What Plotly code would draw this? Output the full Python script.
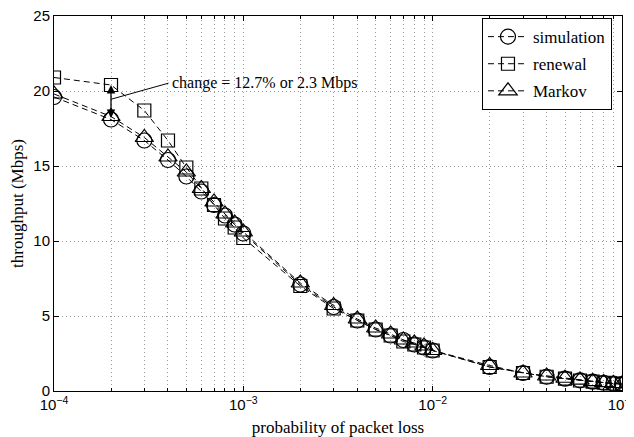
import math
import plotly.graph_objects as go

# probability of packet loss
p = [1e-4, 2e-4, 3e-4, 4e-4, 5e-4, 6e-4, 7e-4, 8e-4, 9e-4,
     1e-3, 2e-3, 3e-3, 4e-3, 5e-3, 6e-3, 7e-3, 8e-3, 9e-3,
     1e-2, 2e-2, 3e-2, 4e-2, 5e-2, 6e-2, 7e-2, 8e-2, 9e-2, 1e-1]

simulation = [19.6, 18.1, 16.7, 15.4, 14.3, 13.3, 12.4, 11.7, 11.1,
              10.5, 7.1, 5.6, 4.7, 4.1, 3.7, 3.4, 3.1, 2.9,
              2.7, 1.6, 1.2, 0.95, 0.82, 0.71, 0.62, 0.55, 0.5, 0.46]
renewal = [20.9, 20.4, 18.7, 16.7, 14.9, 13.5, 12.4, 11.5, 10.9,
           10.2, 7.0, 5.5, 4.7, 4.1, 3.7, 3.3, 3.1, 2.9,
           2.7, 1.6, 1.2, 0.95, 0.82, 0.7, 0.62, 0.55, 0.5, 0.46]
markov = [19.8, 18.3, 16.9, 15.6, 14.6, 13.5, 12.6, 11.8, 11.2,
          10.6, 7.2, 5.7, 4.8, 4.2, 3.8, 3.4, 3.2, 3.0,
          2.7, 1.7, 1.2, 1.0, 0.85, 0.73, 0.63, 0.56, 0.5, 0.47]

x_major = [1e-4, 1e-3, 1e-2, 1e-1]
x_major_text = ["10<sup>\u22124</sup>", "10<sup>\u22123</sup>", "10<sup>\u22122</sup>", "10<sup>\u22121</sup>"]
x_minor = [m * d for d in [1e-4, 1e-3, 1e-2] for m in range(2, 10)]
y_ticks = [0, 5, 10, 15, 20, 25]

annot_text = "change = 12.7% or 2.3 Mbps"

SERIF = "Liberation Serif"
SANS = "Liberation Sans"
DASH = "6px,4px"
GRID = "#9a9a9a"
GRIDDASH = "1px,3px"

fig = go.Figure()
series = [
    ("simulation", simulation, "circle-open", 15),
    ("renewal", renewal, "square-open", 13),
    ("Markov", markov, "triangle-up-open", 16),
]
for name, ys, sym, sz in series:
    fig.add_trace(go.Scatter(
        x=p, y=ys, name=name, mode="lines+markers", legendgroup=name,
        line=dict(color="black", width=1, dash=DASH),
        marker=dict(symbol=sym, size=sz, color="black", line=dict(width=1.2, color="black")),
    ))

# double arrow showing the change at p = 2e-4
xa = math.log10(p[1])
fig.add_annotation(x=xa, y=renewal[1], ax=xa, ay=simulation[1],
                   xref="x", yref="y", axref="x", ayref="y",
                   showarrow=True, arrowhead=2, startarrowhead=2, arrowside="end+start",
                   arrowsize=1.3, startarrowsize=1.3, arrowwidth=1.3, arrowcolor="black", text="")
# pointer line from the text to the arrow
tx = math.log10(4.1e-4)
ty = 20.55
fig.add_annotation(x=xa, y=(renewal[1] + simulation[1]) / 2 + 0.2, ax=tx, ay=ty,
                   xref="x", yref="y", axref="x", ayref="y",
                   showarrow=True, arrowhead=0, arrowwidth=1, arrowcolor="black", text="")
fig.add_annotation(x=tx, y=ty, xref="x", yref="y", text=annot_text, showarrow=False,
                   xanchor="left", yanchor="middle", xshift=0,
                   font=dict(family=SERIF, size=16, color="black"))

# the page body has an 8px margin, so the figure is 8px smaller to fit the window
fig.update_layout(
    width=626, height=429,
    margin=dict(l=46, r=12, t=8, b=46, autoexpand=False),
    plot_bgcolor="white", paper_bgcolor="white",
    showlegend=True,
    legend=dict(x=0.982, y=0.995, xanchor="right", yanchor="top",
                bgcolor="white", bordercolor="black", borderwidth=1.2,
                font=dict(family=SERIF, size=17, color="black"),
                itemwidth=40, tracegroupgap=2),
)
fig.update_xaxes(
    type="log", range=[-4, -1], automargin=False,
    tickmode="array", tickvals=x_major, ticktext=x_major_text,
    tickfont=dict(family=SANS, size=15, color="black"), ticklabeloverflow="allow",
    showline=True, linecolor="black", linewidth=1, mirror="ticks",
    ticks="inside", ticklen=5, tickcolor="black",
    showgrid=True, gridcolor=GRID, griddash=GRIDDASH, gridwidth=1,
    minor=dict(tickmode="array", tickvals=x_minor, ticks="inside", ticklen=3,
               tickcolor="black", showgrid=True, gridcolor=GRID, griddash=GRIDDASH, gridwidth=1),
    title=dict(text="probability of packet loss", font=dict(family=SERIF, size=17, color="black"), standoff=9),
    zeroline=False,
)
fig.update_yaxes(
    range=[0, 25], tickmode="array", tickvals=y_ticks, automargin=False,
    tickfont=dict(family=SANS, size=15, color="black"), ticklabeloverflow="allow",
    showline=True, linecolor="black", linewidth=1, mirror="ticks",
    ticks="inside", ticklen=5, tickcolor="black",
    showgrid=True, gridcolor=GRID, griddash=GRIDDASH, gridwidth=1,
    title=dict(text="throughput (Mbps)", font=dict(family=SERIF, size=17, color="black"), standoff=6),
    zeroline=False,
)

fig.write_html("out.html")
